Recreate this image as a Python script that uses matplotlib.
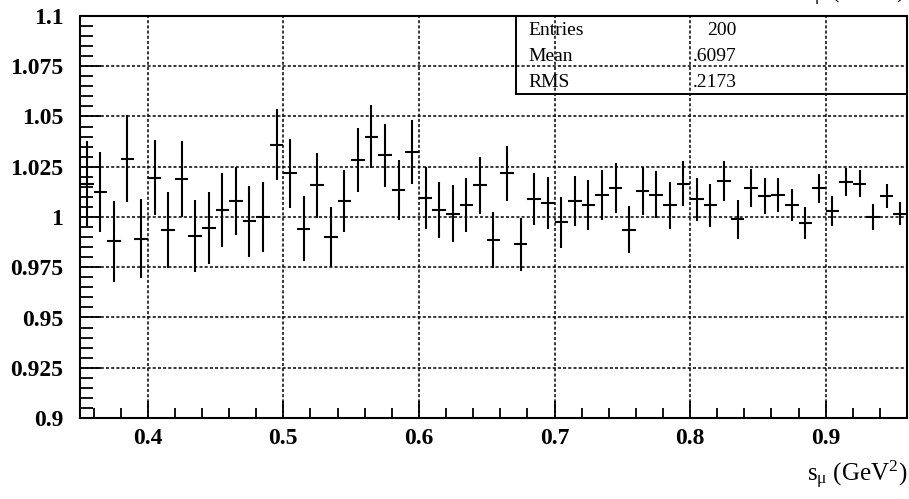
import numpy as np
import matplotlib
matplotlib.use("Agg")
import matplotlib.pyplot as plt
from matplotlib.patches import Rectangle
from matplotlib.ticker import MultipleLocator, FixedLocator, FuncFormatter

plt.rcParams["font.family"] = ["Liberation Serif", "DejaVu Serif"]
plt.rcParams["mathtext.fontset"] = "custom"
plt.rcParams["mathtext.rm"] = "Liberation Serif"
plt.rcParams["mathtext.it"] = "Liberation Serif:italic"

# Histogram binning in s_mu (GeV^2)
s_lo, s_hi, n_bins = 0.35, 0.96, 61

# Ratio per bin and its statistical error
ratio = [1.0166, 1.0123, 0.9879, 1.0290, 0.9892, 1.0195, 0.9935, 1.0189, 0.9907, 0.9944, 1.0036, 1.0080,
         0.9978, 1.0000, 1.0359, 1.0217, 0.9942, 1.0157, 0.9900, 1.0080, 1.0282, 1.0400, 1.0306,
         1.0136, 1.0323, 1.0094, 1.0036, 1.0017, 1.0058, 1.0157, 0.9884, 1.0217, 0.9864, 1.0088,
         1.0071, 0.9974, 1.0080, 1.0058, 1.0111, 1.0144, 0.9937, 1.0129, 1.0111, 1.0058, 1.0166,
         1.0088, 1.0058, 1.0179, 0.9988, 1.0146, 1.0104, 1.0111, 1.0058, 0.9972, 1.0144, 1.0030,
         1.0174, 1.0166, 1.0000, 1.0104, 1.0017]
ratio_err = [0.021, 0.020, 0.020, 0.0215, 0.0196, 0.0187, 0.0187, 0.0187, 0.018, 0.018, 0.0185, 0.017,
             0.0175, 0.0174, 0.0176, 0.017, 0.016, 0.016, 0.015, 0.0156, 0.016, 0.0155, 0.0155,
             0.015, 0.016, 0.0155, 0.014, 0.014, 0.0134, 0.014, 0.014, 0.0137, 0.0133, 0.013,
             0.013, 0.0126, 0.0124, 0.0124, 0.0124, 0.0126, 0.0118, 0.012, 0.0116, 0.0117, 0.0112,
             0.0106, 0.0107, 0.0098, 0.0095, 0.0095, 0.009, 0.0085, 0.008, 0.008, 0.0072, 0.0074,
             0.007, 0.0067, 0.0063, 0.006, 0.0058]

stat_labels = ["Entries", "Mean", "RMS"]
stat_values = ["200", ".6097", ".2173"]

x_major = [0.4, 0.5, 0.6, 0.7, 0.8, 0.9]
y_major = [0.9, 0.925, 0.95, 0.975, 1.0, 1.025, 1.05, 1.075, 1.1]
axis_title = r"$\mathrm{s_{\mu}\ (GeV^{2})}$"

edges = np.linspace(s_lo, s_hi, n_bins + 1)
centers = 0.5 * (edges[:-1] + edges[1:])
half_w = 0.5 * (edges[1] - edges[0])

fig = plt.figure(figsize=(9.09, 4.99), dpi=100)
ax = fig.add_axes([80 / 909, 81 / 499, 827 / 909, 402 / 499])

ax.errorbar(centers, ratio, yerr=ratio_err, xerr=half_w, fmt="none",
            ecolor="black", elinewidth=1.5, capsize=0, zorder=3)

ax.set_xlim(s_lo, s_hi)
ax.set_ylim(0.9, 1.1)

ax.xaxis.set_major_locator(FixedLocator(x_major))
ax.xaxis.set_minor_locator(MultipleLocator(0.02))
ax.yaxis.set_major_locator(FixedLocator(y_major))
ax.yaxis.set_minor_locator(MultipleLocator(0.005))

def fmt(v, pos):
    return f"{v:.3f}".rstrip("0").rstrip(".")

ax.xaxis.set_major_formatter(FuncFormatter(fmt))
ax.yaxis.set_major_formatter(FuncFormatter(fmt))

ax.tick_params(axis="both", which="both", direction="in", width=1.3, colors="black")
ax.tick_params(axis="x", which="major", length=12, pad=7, labelsize=17)
ax.tick_params(axis="x", which="minor", length=7)
ax.tick_params(axis="y", which="major", length=15, pad=12, labelsize=17)
ax.tick_params(axis="y", which="minor", length=9)
for lab in ax.get_xticklabels() + ax.get_yticklabels():
    lab.set_fontweight("bold")

ax.grid(True, which="major", color="black", linestyle=(0, (2.0, 1.4)), linewidth=1.1)
for sp in ax.spines.values():
    sp.set_linewidth(1.5)

# Statistics box
ax.add_patch(Rectangle((0.527, 0.806), 0.473, 0.194, transform=ax.transAxes,
                       fill=False, edgecolor="black", linewidth=1.4, zorder=4, clip_on=False))
for lab, val, yb in zip(stat_labels, stat_values, [0.953, 0.888, 0.823]):
    ax.text(0.542, yb, lab, transform=ax.transAxes, fontsize=14, va="baseline", ha="left")
    ax.text(0.7944, yb, val, transform=ax.transAxes, fontsize=14, va="baseline", ha="right")

fig.text(907 / 909, 1 - 481 / 499, axis_title, fontsize=18, ha="right", va="baseline")
fig.text(905 / 909, 1 + 2 / 499, axis_title, fontsize=18, ha="right", va="baseline")

fig.savefig("out.png", dpi=100)
